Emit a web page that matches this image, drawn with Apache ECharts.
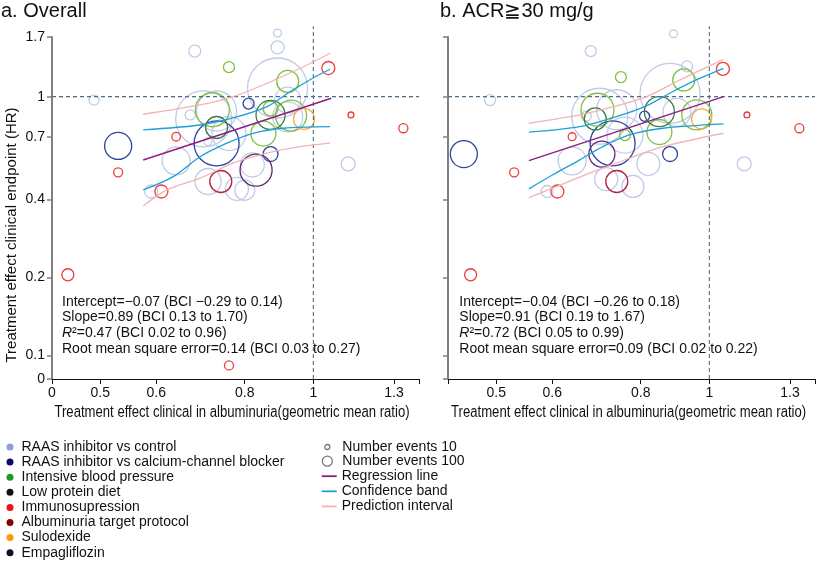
<!DOCTYPE html>
<html><head><meta charset="utf-8">
<script src="https://cdn.jsdelivr.net/npm/echarts@6/dist/echarts.min.js"></script>
<style>html,body{margin:0;padding:0;background:#fff}#c{width:821px;height:563px}</style>
</head><body><div id="c"></div>
<script>
// ---------- axes ----------
const xRange = [0.4274, 1.41];
const yRange = [0.0811, 1.7];
const xTicks = [0.5, 0.6, 0.8, 1, 1.3];
const xTickLabels = ['0.5', '0.6', '0.8', '1', '1.3'];
const yTicks = [0.1, 0.2, 0.4, 0.7, 1, 1.7];
const yTickLabels = ['0.1', '0.2', '0.4', '0.7', '1', '1.7'];
const breakLabel = '0';
const refTop = 1.87;

const titles = ['a. Overall', 'b. ACR\u226730 mg/g'];
const xName = 'Treatment effect clinical in albuminuria(geometric mean ratio)';
const yName = 'Treatment effect clinical endpoint (HR)';

const categories = ['RAAS inhibitor vs control', 'RAAS inhibitor vs calcium-channel blocker',
  'Intensive blood pressure', 'Low protein diet', 'Immunosupression',
  'Albuminuria target protocol', 'Sulodexide', 'Empagliflozin'];
const sizeLegend = ['Number events 10', 'Number events 100'];
const lineLegend = ['Regression line', 'Confidence band', 'Prediction interval'];

// ---------- panel a: Overall  [GMR, HR, events] ----------
const allControl = [[0.49,0.97,21],[0.68,1.50,30],[0.89,1.76,13],[0.89,1.55,35],[0.89,1.08,744],
  [0.70,0.82,648],[0.73,0.88,331],[0.67,0.85,21],[0.71,0.67,13],[0.76,0.72,239],[0.64,0.565,162],
  [0.71,0.47,140],[0.78,0.44,109],[0.59,0.43,35],[0.82,0.545,119],[0.80,0.435,83],[1.12,0.55,40],
  [0.92,0.835,186],[0.92,0.97,140]];
const allCCB = [[0.53,0.645,151],[0.73,0.66,418],[0.81,0.94,25],[0.87,0.60,46]];
const allBP = [[0.76,1.30,25],[0.72,0.89,239],[0.92,1.145,100],[0.87,0.90,46],[0.93,0.845,199],[0.85,0.72,129]];
const allDiet = [[0.73,0.76,100],[0.87,0.85,174]];
const allImmuno = [[0.45,0.205,30],[0.53,0.51,17],[0.64,0.70,15],[0.61,0.43,35],[1.05,1.29,35],
  [1.13,0.85,7],[1.34,0.755,17],[0.76,0.0915,17]];
const allTarget = [[0.74,0.47,100]];
const allSulo = [[0.97,0.82,91]];
const allEmpa = [[0.83,0.52,212]];

const allRegression = [[0.575,0.569],[1.06,0.986]];
const allConfUpper = [[0.575,0.744],[0.692,0.777],[0.770,0.827],[0.860,0.915],[0.927,1.045],[0.999,1.181],[1.056,1.276]];
const allConfLower = [[0.575,0.436],[0.634,0.491],[0.692,0.586],[0.755,0.661],[0.822,0.722],[0.907,0.755],[1.056,0.766]];
const allPredUpper = [[0.575,0.855],[0.692,0.929],[0.770,1.0],[0.860,1.126],[0.958,1.287],[1.056,1.471]];
const allPredLower = [[0.575,0.378],[0.621,0.436],[0.692,0.484],[0.770,0.553],[0.860,0.605],[0.958,0.641],[1.056,0.661]];

// ---------- panel b: ACR >= 30 mg/g ----------
const acrControl = [[0.49,0.97,25],[0.68,1.50,25],[0.89,1.75,13],[0.93,1.31,25],[0.88,1.03,744],
  [0.70,0.84,648],[0.74,0.89,331],[0.67,0.84,21],[0.76,0.71,268],[0.64,0.565,162],[0.82,0.55,109],
  [1.12,0.55,40],[0.715,0.48,109],[0.78,0.45,100],[0.59,0.43,30],[0.90,0.87,162]];
const acrCCB = [[0.45,0.60,151],[0.81,0.84,21],[0.73,0.66,418],[0.88,0.60,46]];
const acrBP = [[0.75,1.19,25],[0.92,1.16,100],[0.695,0.89,225],[0.96,0.85,186],[0.85,0.73,129],[0.76,0.71,25]];
const acrDiet = [[0.69,0.82,100],[0.85,0.875,186]];
const acrImmuno = [[0.46,0.205,30],[0.53,0.51,17],[0.64,0.70,13],[0.61,0.43,35],[1.045,1.28,35],[1.13,0.85,7],[1.34,0.755,17]];
const acrTarget = [[0.74,0.47,100]];
const acrSulo = [[0.975,0.82,83]];
const acrEmpa = [[0.705,0.60,140]];

const acrRegression = [[0.556,0.566],[1.047,1.0]];
const acrConfUpper = [[0.556,0.729],[0.656,0.766],[0.739,0.837],[0.815,0.921],[0.879,1.031],[0.958,1.160],[1.047,1.287]];
const acrConfLower = [[0.556,0.440],[0.601,0.499],[0.656,0.570],[0.707,0.641],[0.771,0.711],[0.860,0.755],[1.047,0.785]];
const acrPredUpper = [[0.556,0.789],[0.656,0.850],[0.739,0.921],[0.815,1.0],[0.908,1.160],[1.047,1.394]];
const acrPredLower = [[0.556,0.407],[0.608,0.449],[0.677,0.506],[0.771,0.578],[0.860,0.641],[1.047,0.722]];

const statsAll = ['Intercept=\u22120.07 (BCI \u22120.29 to 0.14)', 'Slope=0.89 (BCI 0.13 to 1.70)',
  '{i|R}\u00b2=0.47 (BCI 0.02 to 0.96)', 'Root mean square error=0.14 (BCI 0.03 to 0.27)'];
const statsAcr = ['Intercept=\u22120.04 (BCI \u22120.26 to 0.18)', 'Slope=0.91 (BCI 0.19 to 1.67)',
  '{i|R}\u00b2=0.72 (BCI 0.05 to 0.99)', 'Root mean square error=0.09 (BCI 0.02 to 0.22)'];

// ---------- styles ----------
const FONT = '"Liberation Sans", Arial, sans-serif';
const bubbleColors = ['#c3c9ea', '#2d44a0', '#7dc242', '#3b7d4a', '#ee3b3b', '#b4233f', '#f6ad4c', '#5e2a70'];
const legendColors = ['#8c9edc', '#0b0b66', '#1f9a1f', '#111111', '#ee1111', '#8b0000', '#ff9900', '#1a0a26'];
const lineColors = { reg: '#8c1f7f', conf: '#1f9fd6', pred: '#f2b3b3' };
const L = Math.log;

function fmt(ticks, labels, withBreak, minVal) {
  return function (v) {
    if (withBreak && Math.abs(v - L(minVal)) < 1e-6) return breakLabel;
    for (let i = 0; i < ticks.length; i++) if (Math.abs(v - L(ticks[i])) < 1e-6) return labels[i];
    return '';
  };
}

function makeX(gi, withBreak) {
  const tickVals = [L(xRange[0])].concat(xTicks.map(L), [L(xRange[1])]);
  const labelVals = withBreak ? [L(xRange[0])].concat(xTicks.map(L)) : xTicks.map(L);
  return {
    type: 'value', gridIndex: gi, min: L(xRange[0]), max: L(xRange[1]),
    axisLine: { show: true, onZero: false, lineStyle: { color: '#111', width: 1 } },
    axisTick: { show: true, length: 5, customValues: tickVals, lineStyle: { color: '#111', width: 1 } },
    axisLabel: { show: true, customValues: labelVals, formatter: fmt(xTicks, xTickLabels, withBreak, xRange[0]),
      margin: 7, fontSize: 14, color: '#111', fontFamily: FONT },
    splitLine: { show: false }
  };
}
function makeY(gi, withLabels) {
  const tickVals = [L(yRange[0])].concat(yTicks.map(L));
  return {
    type: 'value', gridIndex: gi, min: L(yRange[0]), max: L(yRange[1]),
    axisLine: { show: true, onZero: false, lineStyle: { color: '#808080', width: 2 } },
    axisTick: { show: true, length: 5, customValues: tickVals, lineStyle: { color: '#808080', width: 1.5 } },
    axisLabel: { show: withLabels, customValues: tickVals, formatter: fmt(yTicks, yTickLabels, true, yRange[0]),
      margin: 7, fontSize: 14, color: '#111', fontFamily: FONT },
    splitLine: { show: false }
  };
}

const tr = arr => arr.map(d => [L(d[0]), L(d[1]), d[2]]);
const series = [];
function addPanel(gi, groups, lines) {
  groups.forEach((g, i) => {
    series.push({
      type: 'scatter', name: categories[i], xAxisIndex: gi, yAxisIndex: gi,
      data: tr(g), clip: false, symbol: 'circle',
      symbolSize: v => 2.2 * Math.sqrt(v[2]),
      itemStyle: { color: 'rgba(255,255,255,0)', borderColor: bubbleColors[i], borderWidth: 1.3, opacity: 1 },
      z: 2 + (i === 0 ? 0 : 1)
    });
  });
  const refStyle = { color: '#4e6c88', width: 1.1, type: [4, 3] };
  series.push({ type: 'line', xAxisIndex: gi, yAxisIndex: gi, data: tr([[xRange[0], 1], [xRange[1], 1]]),
    symbol: 'none', clip: false, lineStyle: refStyle, silent: true, z: 4 });
  series.push({ type: 'line', xAxisIndex: gi, yAxisIndex: gi, data: tr([[1, yRange[0]], [1, refTop]]),
    symbol: 'none', clip: false, lineStyle: refStyle, silent: true, z: 4 });
  const lineDefs = [
    [lineLegend[2], lines.predU, lineColors.pred, 1.3],
    [lineLegend[2], lines.predL, lineColors.pred, 1.3],
    [lineLegend[1], lines.confU, lineColors.conf, 1.3],
    [lineLegend[1], lines.confL, lineColors.conf, 1.3],
    [lineLegend[0], lines.reg, lineColors.reg, 1.5]
  ];
  lineDefs.forEach(ld => series.push({
    type: 'line', name: ld[0], xAxisIndex: gi, yAxisIndex: gi, data: tr(ld[1]), symbol: 'none',
    smooth: 0.3, clip: false, lineStyle: { color: ld[2], width: ld[3] }, itemStyle: { color: ld[2] }, z: 5
  }));
}
addPanel(0, [allControl, allCCB, allBP, allDiet, allImmuno, allTarget, allSulo, allEmpa],
  { reg: allRegression, confU: allConfUpper, confL: allConfLower, predU: allPredUpper, predL: allPredLower });
addPanel(1, [acrControl, acrCCB, acrBP, acrDiet, acrImmuno, acrTarget, acrSulo, acrEmpa],
  { reg: acrRegression, confU: acrConfUpper, confL: acrConfLower, predU: acrPredUpper, predL: acrPredLower });
sizeLegend.forEach(n => series.push({ type: 'scatter', name: n, data: [], xAxisIndex: 0, yAxisIndex: 0,
  itemStyle: { color: '#fff', borderColor: '#555', borderWidth: 1.2 } }));

function statText(x, lines) {
  return lines.map((t, k) => ({
    type: 'text', x: x, y: 301.7 + k * 15.9, silent: true,
    style: { text: t, fontSize: 14, fontFamily: FONT, fill: '#111', verticalAlign: 'middle',
      rich: { i: { fontStyle: 'italic', fontSize: 14, fontFamily: FONT, fill: '#111' } } }
  }));
}
function xNameText(cx) {
  return { type: 'text', x: cx, y: 413, scaleX: 0.82, silent: true,
    style: { text: xName, fontSize: 16, fontFamily: FONT, fill: '#111', align: 'center', verticalAlign: 'middle' } };
}

const legText = { fontSize: 14, fontFamily: FONT, color: '#111' };
const ringStyle = { color: '#fff', borderColor: '#555', borderWidth: 1.3 };
const option = {
  animation: false,
  backgroundColor: '#fff',
  title: [
    { text: titles[0], left: 1, top: 1, padding: 0, textStyle: { fontSize: 20, fontWeight: 'normal', color: '#111', fontFamily: FONT } },
    { text: titles[1], left: 440, top: 1, padding: 0, textStyle: { fontSize: 20, fontWeight: 'normal', color: '#111', fontFamily: FONT } }
  ],
  grid: [
    { left: 52, top: 37, width: 367, height: 342 },
    { left: 448, top: 37, width: 367, height: 342 }
  ],
  xAxis: [makeX(0, true), makeX(1, false)],
  yAxis: [makeY(0, true), makeY(1, false)],
  legend: [
    { orient: 'vertical', left: 6.5, top: 440, padding: 0, itemGap: 1.1, itemWidth: 13, itemHeight: 7,
      selectedMode: false, textStyle: legText,
      data: categories.map((n, i) => ({ name: n, icon: 'circle', itemStyle: { color: legendColors[i], borderWidth: 0 } })) },
    { orient: 'vertical', left: 324.2, top: 440, padding: 0, itemWidth: 20, itemHeight: 5, selectedMode: false,
      textStyle: legText, data: [{ name: sizeLegend[0], icon: 'circle', itemStyle: ringStyle }] },
    { orient: 'vertical', left: 321.7, top: 454.2, padding: 0, itemWidth: 20, itemHeight: 10, selectedMode: false,
      textStyle: legText, data: [{ name: sizeLegend[1], icon: 'circle', itemStyle: ringStyle }] },
    { orient: 'vertical', left: 321.7, top: 469.2, padding: 0, itemGap: 1.1, itemWidth: 15, itemHeight: 1.8, selectedMode: false,
      textStyle: legText,
      data: [
        { name: lineLegend[0], icon: 'rect', itemStyle: { color: lineColors.reg, borderWidth: 0 } },
        { name: lineLegend[1], icon: 'rect', itemStyle: { color: lineColors.conf, borderWidth: 0 } },
        { name: lineLegend[2], icon: 'rect', itemStyle: { color: lineColors.pred, borderWidth: 0 } }
      ] }
  ],
  graphic: [
    { type: 'text', x: 11.5, y: 235, rotation: Math.PI / 2, silent: true,
      style: { text: yName, fontSize: 15, fontFamily: FONT, fill: '#111', align: 'center', verticalAlign: 'middle' } },
    xNameText(232), xNameText(628.6)
  ].concat(statText(62, statsAll), statText(459.3, statsAcr)),
  series: series
};
const chart = echarts.init(document.getElementById('c'), null, { renderer: 'canvas' });
chart.setOption(option);
</script>
</body></html>
